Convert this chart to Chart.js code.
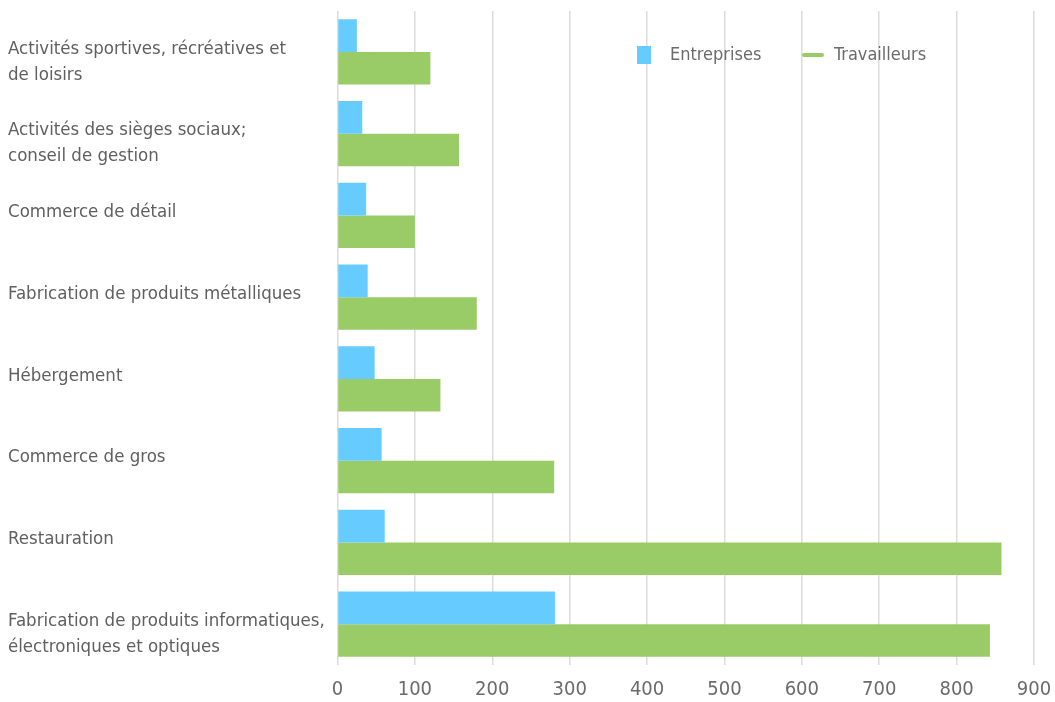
<!DOCTYPE html>
<html>
<head>
<meta charset="utf-8">
<script src="https://cdn.jsdelivr.net/npm/chart.js@4/dist/chart.umd.min.js"></script>
<style>
  html, body { margin: 0; padding: 0; background: #fff; }
  #wrap { width: 1055px; height: 702px; }
</style>
</head>
<body>
<div id="wrap"><canvas id="chart"></canvas></div>
<script>
const categories = [
  ["Activités sportives, récréatives et", "de loisirs"],
  ["Activités des sièges sociaux;", "conseil de gestion"],
  "Commerce de détail",
  "Fabrication de produits métalliques",
  "Hébergement",
  "Commerce de gros",
  "Restauration",
  ["Fabrication de produits informatiques,", "électroniques et optiques"],
];
const entreprises = [25, 32, 37, 39, 48, 57, 61, 281];
const travailleurs = [120, 157, 100, 180, 133, 280, 858, 843];
const xTicks = [0, 100, 200, 300, 400, 500, 600, 700, 800, 900];

const FONT = "'Liberation Sans Narrow', 'DejaVu Sans Condensed', 'Noto Sans', sans-serif";
const BLUE = "#66ccff";
const GREEN = "#99cc66";

// legend drawn inside the plot area, top right
const cornerLegend = {
  id: "cornerLegend",
  afterDraw(chart) {
    const ctx = chart.ctx;
    const area = chart.chartArea;
    const y = area.top + 44;
    ctx.save();
    ctx.font = "18px " + FONT;
    ctx.textBaseline = "middle";

    let x = area.right - 397;
    ctx.fillStyle = BLUE;
    ctx.fillRect(x, y - 9, 14, 18);
    ctx.fillStyle = "#6b6b6b";
    ctx.fillText(chart.data.datasets[0].label, x + 33, y);

    x = area.right - 232;
    ctx.strokeStyle = GREEN;
    ctx.lineWidth = 4;
    ctx.lineCap = "round";
    ctx.beginPath();
    ctx.moveTo(x + 2, y);
    ctx.lineTo(x + 20, y);
    ctx.stroke();
    ctx.fillText(chart.data.datasets[1].label, x + 32, y);
    ctx.restore();
  },
};

new Chart(document.getElementById("chart"), {
  type: "bar",
  data: {
    labels: categories,
    datasets: [
      { label: "Entreprises", data: entreprises, backgroundColor: BLUE },
      { label: "Travailleurs", data: travailleurs, backgroundColor: GREEN },
    ],
  },
  options: {
    indexAxis: "y",
    responsive: true,
    maintainAspectRatio: false,
    animation: false,
    categoryPercentage: 0.8,
    barPercentage: 1.0,
    layout: { padding: { left: 8, right: 21, top: 11, bottom: 1 } },
    plugins: {
      legend: { display: false },
      tooltip: { enabled: false },
    },
    scales: {
      x: {
        min: 0,
        max: 900,
        afterBuildTicks(scale) {
          scale.ticks = xTicks.map((v) => ({ value: v }));
        },
        afterFit(scale) {
          scale.height = 36;
          scale.paddingLeft = 0;
          scale.paddingRight = 0;
        },
        grid: { color: "#dcdcdc", lineWidth: 1.5, drawTicks: false },
        border: { display: false },
        ticks: {
          padding: 13,
          color: "#6b6b6b",
          font: { family: FONT, size: 20 },
        },
      },
      y: {
        grid: { display: false },
        border: { display: false },
        afterFit(scale) {
          scale.width = 329.5;
          scale.paddingTop = 0;
          scale.paddingBottom = 0;
        },
        ticks: {
          crossAlign: "far",
          labelOffset: -3,
          color: "#5f5f5f",
          font: { family: FONT, size: 18.5, lineHeight: 1.4 },
          // first line sits on the bar pair centre, extra lines hang below
          callback(value, index) {
            const label = categories[index];
            return Array.isArray(label) ? ["", ...label] : label;
          },
        },
      },
    },
  },
  plugins: [cornerLegend],
});
</script>
</body>
</html>
